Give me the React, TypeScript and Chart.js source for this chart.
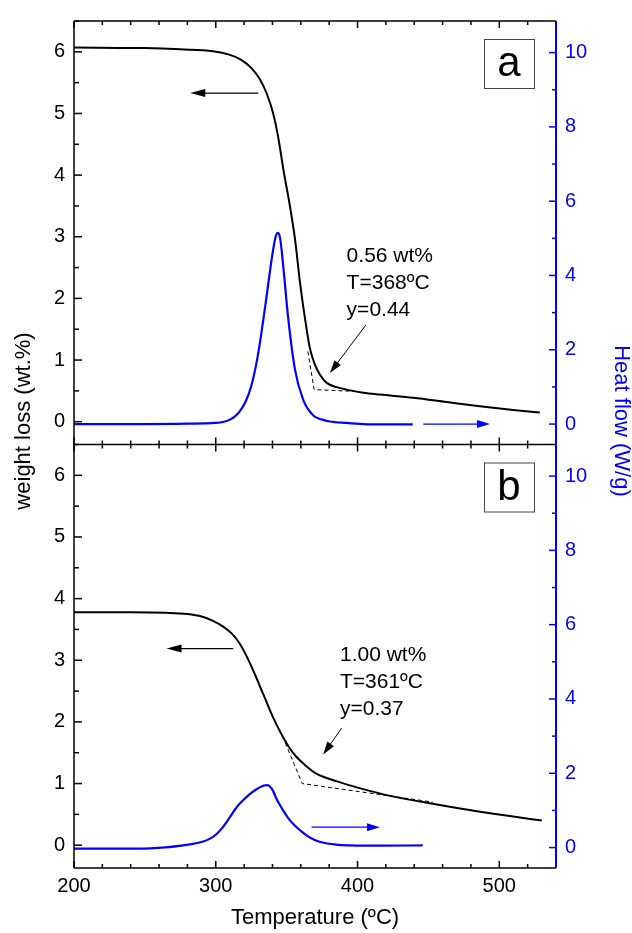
import React, { useEffect, useRef } from "react";
import { Chart, registerables } from "chart.js";

Chart.register(...registerables);

const FONT = "'Liberation Sans', Arial, Helvetica, sans-serif";
const BLUE = "#0000ff";

// ---------- Panel a ----------
const tempWeightA = [200, 250, 275, 298, 310, 318, 325, 331, 336, 340.5, 344, 348, 352.3, 355.9, 359.4, 362.9, 366.4, 370, 373.5, 378.2, 385.3, 392.3, 404, 415.8, 439.3, 462.8, 486.3, 509.8, 528.6];
const weightA = [6.07, 6.06, 6.04, 6.01, 5.95, 5.87, 5.74, 5.56, 5.32, 5.0, 4.62, 4.05, 3.5, 2.96, 2.26, 1.68, 1.19, 0.92, 0.76, 0.63, 0.56, 0.52, 0.47, 0.44, 0.39, 0.32, 0.25, 0.19, 0.15];
const tempHeatA = [200, 250, 280, 300, 310, 316, 321, 325, 329, 332, 335, 338, 340.5, 342.5, 344, 345.5, 347.6, 351.1, 355.8, 361.7, 368.8, 375, 380.4, 392, 404, 420, 439];
const heatA = [0.0, 0.0, 0.01, 0.03, 0.12, 0.3, 0.6, 1.02, 1.7, 2.4, 3.2, 4.05, 4.7, 5.08, 5.15, 4.98, 4.25, 2.85, 1.48, 0.65, 0.23, 0.12, 0.07, 0.03, 0.0, -0.01, -0.01];
const tangentTempA = [365, 369.4, 399.5];
const tangentWeightA = [1.14, 0.52, 0.49];
const annotA = ["0.56 wt%", "T=368ºC", "y=0.44"];
const annotPosA = [392.3, 2.69];
const arrowWeightA = [330, 5.33, 282, 5.33];
const arrowHeatA = [446.4, 0.0, 493.4, 0.0];
const arrowNoteA = [405.9, 1.57, 380.5, 0.79];

// ---------- Panel b ----------
const tempWeightB = [200, 240, 265, 280, 290, 298, 305, 311, 316, 321, 326.5, 333.5, 340.5, 347.5, 352.5, 357, 362, 371, 385, 404, 423, 446, 479, 505, 530];
const weightB = [3.78, 3.78, 3.77, 3.75, 3.71, 3.64, 3.55, 3.44, 3.3, 3.1, 2.83, 2.45, 2.07, 1.75, 1.56, 1.43, 1.32, 1.16, 1.04, 0.91, 0.8, 0.7, 0.57, 0.48, 0.4];
const tempHeatB = [200, 230, 254, 277, 290, 296, 301, 305, 310, 315, 320, 324, 328, 331, 334, 336, 338, 340.5, 343, 347.5, 351, 355, 360, 364, 369, 374, 385, 395, 418, 446];
const heatB = [-0.03, -0.03, -0.02, 0.06, 0.15, 0.24, 0.38, 0.55, 0.82, 1.1, 1.3, 1.44, 1.55, 1.62, 1.67, 1.68, 1.65, 1.52, 1.3, 1.0, 0.8, 0.62, 0.45, 0.33, 0.22, 0.15, 0.08, 0.06, 0.05, 0.06];
const tangentTempB = [349, 361, 453];
const tangentWeightB = [1.66, 1.0, 0.7];
const annotB = ["1.00 wt%", "T=361ºC", "y=0.37"];
const annotPosB = [387.6, 3.08];
const arrowWeightB = [312.3, 3.19, 265.3, 3.19];
const arrowHeatB = [367.6, 0.55, 415.8, 0.55];
const arrowNoteB = [388.8, 1.9, 375.8, 1.47];

// ---------- Axes ----------
const tempRange = [200, 540];
const weightRange = [-0.37, 6.5];
const heatRange = [-0.55, 10.85];
const panelLetters = ["a", "b"];
const xTitle = "Temperature (ºC)";
const yLeftTitle = "weight loss (wt.%)";
const yRightTitle = "Heat flow (W/g)";

const pts = (xs: number[], ys: number[]) => xs.map((x, i) => ({ x, y: ys[i] }));

function drawArrow(ctx: CanvasRenderingContext2D, x1: number, y1: number, x2: number, y2: number, color: string, lw: number, hl: number, hw: number) {
  const a = Math.atan2(y2 - y1, x2 - x1);
  const c = Math.cos(a), s = Math.sin(a);
  ctx.save();
  ctx.strokeStyle = color;
  ctx.fillStyle = color;
  ctx.lineWidth = lw;
  ctx.beginPath();
  ctx.moveTo(x1, y1);
  ctx.lineTo(x2 - c * hl * 0.8, y2 - s * hl * 0.8);
  ctx.stroke();
  ctx.beginPath();
  ctx.moveTo(x2, y2);
  ctx.lineTo(x2 - c * hl - s * hw / 2, y2 - s * hl + c * hw / 2);
  ctx.lineTo(x2 - c * hl + s * hw / 2, y2 - s * hl - c * hw / 2);
  ctx.closePath();
  ctx.fill();
  ctx.restore();
}

const decorPlugin = {
  id: "decor",
  afterDatasetsDraw(chart: any) {
    const { ctx, chartArea, scales } = chart;
    const { x, yA, yB, rA, rB } = scales;
    const L = chartArea.left, R = chartArea.right, T = chartArea.top, B = chartArea.bottom;
    const mid = (yA.bottom + yB.top) / 2;
    const line = (x1: number, y1: number, x2: number, y2: number) => {
      ctx.beginPath();
      ctx.moveTo(x1, y1);
      ctx.lineTo(x2, y2);
      ctx.stroke();
    };
    ctx.save();
    ctx.strokeStyle = "#000";
    ctx.lineWidth = 1.5;
    line(L, T, R, T);
    line(L, mid, R, mid);
    line(L, B, R, B);
    line(L, T, L, B);
    for (let v = tempRange[0]; v <= tempRange[1]; v += 20) {
      const px = x.getPixelForValue(v);
      const len = v % 100 === 0 ? 7 : 4;
      line(px, T, px, T + len);
      line(px, mid - len, px, mid + len);
      line(px, B - len, px, B);
    }
    for (const s of [yA, yB]) {
      for (let v = 0; v <= weightRange[1]; v += 0.5) {
        const py = s.getPixelForValue(v);
        const len = v % 1 === 0 ? 8 : 5;
        line(L, py, L + len, py);
      }
    }
    ctx.strokeStyle = BLUE;
    for (const s of [rA, rB]) {
      for (let v = 0; v <= heatRange[1]; v += 1) {
        const py = s.getPixelForValue(v);
        const len = v % 2 === 0 ? 7 : 4;
        line(R - len, py, R, py);
      }
    }
    ctx.lineWidth = 2;
    line(R, T, R, B);

    // arrows
    const arr = (a: number[], sy: any, color: string, lw: number, hl: number, hw: number) =>
      drawArrow(ctx, x.getPixelForValue(a[0]), sy.getPixelForValue(a[1]), x.getPixelForValue(a[2]), sy.getPixelForValue(a[3]), color, lw, hl, hw);
    arr(arrowWeightA, yA, "#000", 1.2, 15, 8);
    arr(arrowHeatA, rA, BLUE, 1.2, 13, 8);
    arr(arrowNoteA, yA, "#000", 1, 13, 8);
    arr(arrowWeightB, yB, "#000", 1.2, 15, 8);
    arr(arrowHeatB, rB, BLUE, 1.2, 13, 8);
    arr(arrowNoteB, yB, "#000", 1, 13, 8);

    // annotations
    ctx.fillStyle = "#000";
    ctx.font = `21px ${FONT}`;
    ctx.textAlign = "left";
    ctx.textBaseline = "middle";
    const note = (lines: string[], pos: number[], sy: any) => {
      const px = x.getPixelForValue(pos[0]);
      const py = sy.getPixelForValue(pos[1]);
      lines.forEach((t, i) => ctx.fillText(t, px, py + i * 27));
    };
    note(annotA, annotPosA, yA);
    note(annotB, annotPosB, yB);

    // panel letters
    [yA, yB].forEach((s: any, i: number) => {
      const bx = R - 72, by = s.top + 18, bw = 50, bh = 49;
      ctx.strokeStyle = "#444";
      ctx.lineWidth = 1;
      ctx.strokeRect(bx + 0.5, by + 0.5, bw, bh);
      ctx.fillStyle = "#000";
      ctx.font = `42px ${FONT}`;
      ctx.textAlign = "center";
      ctx.textBaseline = "middle";
      ctx.fillText(panelLetters[i], bx + bw / 2, by + bh / 2 + 1);
    });

    // y titles
    ctx.font = `22px ${FONT}`;
    ctx.textAlign = "center";
    ctx.textBaseline = "middle";
    ctx.fillStyle = "#000";
    ctx.save();
    ctx.translate(24, 421);
    ctx.rotate(-Math.PI / 2);
    ctx.fillText(yLeftTitle, 0, 0);
    ctx.restore();
    ctx.fillStyle = BLUE;
    ctx.save();
    ctx.translate(621, 421);
    ctx.rotate(Math.PI / 2);
    ctx.fillText(yRightTitle, 0, 0);
    ctx.restore();
    ctx.restore();
  },
};

const tickFont = { family: FONT, size: 20 };

function leftAxis(weight: number) {
  return {
    type: "linear",
    position: "left",
    stack: "left",
    stackWeight: 1,
    weight,
    min: weightRange[0],
    max: weightRange[1],
    grid: { display: false, drawTicks: false },
    border: { display: false },
    ticks: { stepSize: 1, includeBounds: false, padding: 9, font: tickFont, color: "#000" },
    afterFit: (s: any) => { s.width = 74; },
  };
}
function rightAxis(weight: number) {
  return {
    type: "linear",
    position: "right",
    stack: "right",
    stackWeight: 1,
    weight,
    min: heatRange[0],
    max: heatRange[1],
    grid: { display: false, drawTicks: false },
    border: { display: false },
    ticks: { stepSize: 2, includeBounds: false, padding: 9, font: tickFont, color: BLUE },
    afterFit: (s: any) => { s.width = 76; },
  };
}

export default function App() {
  const ref = useRef<HTMLCanvasElement | null>(null);
  useEffect(() => {
    if (!ref.current) return;
    const line = (data: any, axis: string, color: string, width: number, dash?: number[]) => ({
      data,
      yAxisID: axis,
      xAxisID: "x",
      borderColor: color,
      borderWidth: width,
      borderDash: dash || [],
      pointRadius: 0,
      fill: false,
      cubicInterpolationMode: dash ? "default" : "monotone",
      tension: dash ? 0 : 0.4,
    });
    const chart = new Chart(ref.current, {
      type: "line",
      data: {
        datasets: [
          line(pts(tempWeightA, weightA), "yA", "#000", 2),
          line(pts(tempHeatA, heatA), "rA", BLUE, 2.2),
          line(pts(tangentTempA, tangentWeightA), "yA", "#000", 1, [4, 3]),
          line(pts(tempWeightB, weightB), "yB", "#000", 2),
          line(pts(tempHeatB, heatB), "rB", BLUE, 2.2),
          line(pts(tangentTempB, tangentWeightB), "yB", "#000", 1, [4, 3]),
        ] as any,
      },
      options: {
        animation: false,
        responsive: false,
        devicePixelRatio: 1,
        layout: { padding: { top: 13, left: 0, right: 0, bottom: 0 } },
        plugins: { legend: { display: false }, tooltip: { enabled: false } },
        scales: {
          x: {
            type: "linear",
            position: "bottom",
            min: tempRange[0],
            max: tempRange[1],
            grid: { display: false, drawTicks: false },
            border: { display: false },
            ticks: { stepSize: 100, includeBounds: false, padding: 6, font: tickFont, color: "#000", maxRotation: 0 },
            title: { display: true, text: xTitle, font: { family: FONT, size: 22 }, color: "#000", padding: { top: 0, bottom: 2 } },
            afterFit: (s: any) => { s.height = 65; },
          },
          yA: leftAxis(2),
          yB: leftAxis(1),
          rA: rightAxis(1),
          rB: rightAxis(2),
        } as any,
      },
      plugins: [decorPlugin],
    });
    return () => chart.destroy();
  }, []);
  return (
    <div style={{ position: "fixed", left: 0, top: 0, width: 632, height: 933, background: "#fff" }}>
      <canvas ref={ref} width={632} height={933} style={{ width: 632, height: 933, display: "block" }} />
    </div>
  );
}
